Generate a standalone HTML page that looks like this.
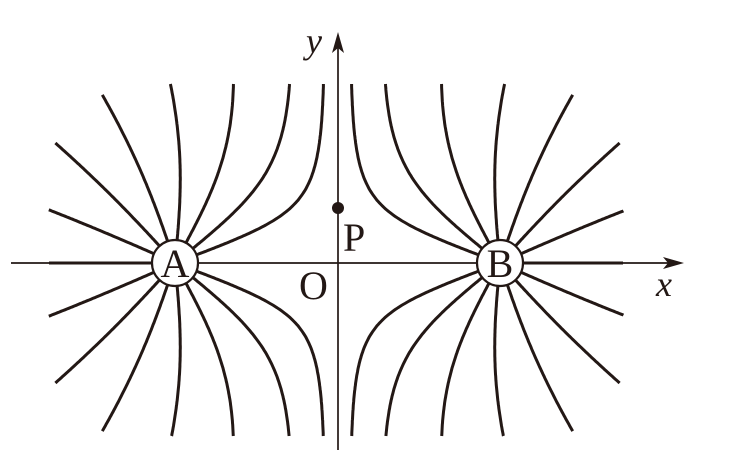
<!DOCTYPE html>
<html><head><meta charset="utf-8"><style>
html,body{margin:0;padding:0;background:#fff;}
svg{display:block;}
text{font-family:"Liberation Serif",serif;fill:#231815;}
</style></head><body>
<svg id="s" width="735" height="461" viewBox="0 0 735 461" xmlns="http://www.w3.org/2000/svg">
<g id="lines" fill="none" stroke="#231815" stroke-width="3" stroke-linecap="butt"></g>
<line x1="11" y1="263" x2="675" y2="263" stroke="#231815" stroke-width="1.7"/>
<line x1="49" y1="263" x2="175" y2="263" stroke="#231815" stroke-width="3"/>
<line x1="500" y1="263" x2="623" y2="263" stroke="#231815" stroke-width="3"/>
<polygon points="684,263 663,257 668,263 663,269" fill="#231815"/>
<line x1="338" y1="450" x2="338" y2="45" stroke="#231815" stroke-width="1.7"/>
<polygon points="338,32 332,53 338,48 344,53" fill="#231815"/>
<circle cx="175" cy="263" r="23" fill="#fff" stroke="#231815" stroke-width="2.2"/>
<circle cx="500" cy="263" r="23" fill="#fff" stroke="#231815" stroke-width="2.2"/>
<circle cx="338" cy="208" r="6" fill="#231815"/>
<text x="175" y="277" font-size="40" text-anchor="middle">A</text>
<text x="500" y="277" font-size="40" text-anchor="middle">B</text>
<text x="343" y="251" font-size="40">P</text>
<text x="299" y="299" font-size="40">O</text>
<text x="306" y="53" font-size="36" font-style="italic">y</text>
<text x="656" y="296" font-size="36" font-style="italic">x</text>
</svg>
<script>
(function(){
var g=document.getElementById('lines');
var C=[[175,263],[500,263]];
var angs=[[20.8,1e9],[39.2,1e9],[61.5,1e9],[84.7,1e9],[108.7,183],[132.3,169],[156.2,1e9]];
function E(x,y){var ex=0,ey=0;for(var i=0;i<2;i++){var dx=x-C[i][0],dy=y-C[i][1];var r2=dx*dx+dy*dy;var r=Math.sqrt(r2);ex+=dx/(r2*r);ey+=dy/(r2*r);}return[ex,ey];}
for(var ci=0;ci<2;ci++){
 var cx=C[ci][0],cy=C[ci][1],dir=ci==0?1:-1;
 for(var k=0;k<angs.length;k++){
  for(var sg=-1;sg<=1;sg+=2){
  var a=angs[k][0]*Math.PI/180, cap=angs[k][1];
  var x=cx+23*dir*Math.cos(a),y=cy+sg*23*Math.sin(a);
  var d='M'+x.toFixed(1)+' '+y.toFixed(1);
  for(var n=0;n<4000;n++){
   var e=E(x,y);var m=Math.hypot(e[0],e[1]);if(m==0)break;
   var nx=x+0.5*e[0]/m,ny=y+0.5*e[1]/m;
   var stop=false;
   if(ny<84){nx=x+(nx-x)*(84-y)/(ny-y);ny=84;stop=true;}
   else if(ny>436){nx=x+(nx-x)*(436-y)/(ny-y);ny=436;stop=true;}
   if(nx<49||nx>623){stop=true;}
   if(Math.hypot(nx-cx,ny-cy)>cap)stop=true;
   x=nx;y=ny;
   if(n%4==0||stop)d+=' L'+x.toFixed(1)+' '+y.toFixed(1);
   if(stop)break;
  }
  var p=document.createElementNS('http://www.w3.org/2000/svg','path');
  p.setAttribute('d',d);g.appendChild(p);
  }
 }
}
})();
</script>
</body></html>
